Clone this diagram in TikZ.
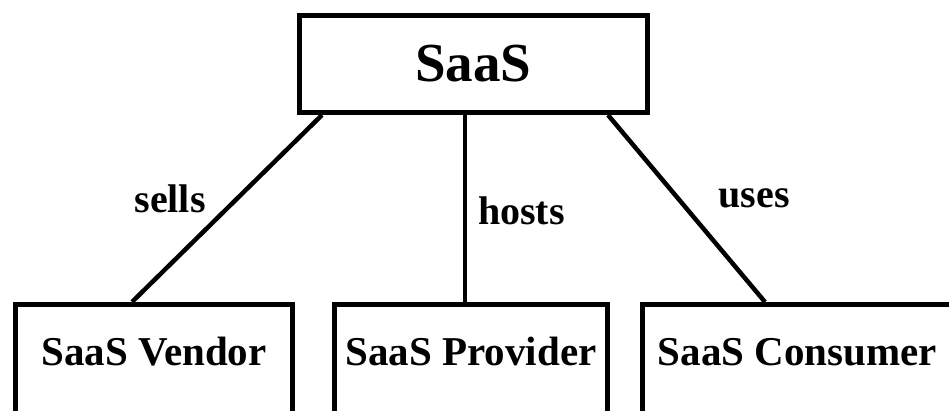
\documentclass[tikz,border=0pt]{standalone}
\usepackage{fontspec}
\setmainfont{Liberation Serif}
\begin{document}
\begin{tikzpicture}[x=1pt,y=-1pt,
    box/.style={draw, rectangle, line width=5pt, inner sep=0pt,
        font=\fontsize{41}{41}\selectfont\bfseries,
        text height=27pt, text depth=21.5pt, minimum height=115.5pt},
    topbox/.style={box, font=\fontsize{55}{55}\selectfont\bfseries,
        text height=36pt, text depth=0pt, minimum width=348pt, minimum height=97pt},
    link/.style={line width=4.5pt},
    lbl/.style={font=\fontsize{40}{40}\selectfont\bfseries, inner sep=0pt, anchor=base}]
                \useasboundingbox (0,0) rectangle (949,411);
                \fill[white] (0,0) rectangle (949,411);
                \clip (0,0) rectangle (949,411);

                % boxes
                \node[topbox] (saas) at (473.5,64) {SaaS};
                \node[box, minimum width=277pt] (vendor) at (154,362.25) {SaaS Vendor};
                \node[box, minimum width=273pt] (provider) at (471,362.25) {SaaS Provider};
                \node[box, minimum width=310pt] (consumer) at (797.5,362.25) {SaaS Consumer};

                % relations
                \draw[link] ([xshift=25pt]saas.south west) -- ([xshift=119pt]vendor.north west);
                \draw[link] ([xshift=-8.5pt]saas.south) -- ([xshift=-6pt]provider.north);
                \draw[link] ([xshift=-42pt]saas.south east) -- ([xshift=125pt]consumer.north west);

                \node[lbl] (sells) at (170,213) {sells};
                \node[lbl] (hosts) at (521.5,225) {hosts};
                \node[lbl] (uses) at (754,208) {uses};
            \end{tikzpicture}
\end{document}
